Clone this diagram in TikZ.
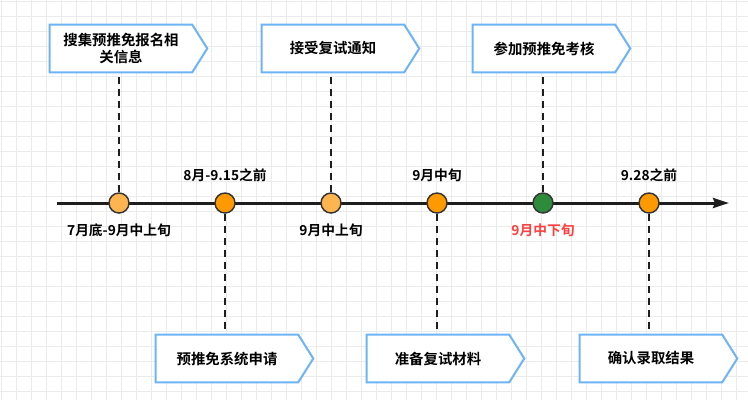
\documentclass[tikz,border=0pt]{standalone}
\usepackage{fontspec}
\setmainfont{Noto Sans CJK SC}[BoldFont={Noto Sans CJK SC Bold}]
\usetikzlibrary{arrows.meta}
\pgfdeclarelayer{gridlayer}
\pgfdeclarelayer{background}
\pgfsetlayers{gridlayer,background,main}
\definecolor{gridc}{HTML}{EBEBEB}
\definecolor{boxc}{HTML}{6CB4F5}
\definecolor{lorange}{HTML}{FFB54F}
\definecolor{dorange}{HTML}{FF9900}
\definecolor{dgreen}{HTML}{2E8B3C}
\definecolor{redt}{HTML}{FF4040}
\definecolor{linec}{HTML}{1E1E1E}
\tikzset{
  px/.style={x=0.75pt,y=-0.75pt},
  boxnode/.style={minimum width=106.5pt,minimum height=35.25pt,inner sep=0pt,font=\bfseries\fontsize{10.8}{12.4}\selectfont,align=center,text=black},
  boxline/.style={draw=boxc,line width=1.5pt,fill=white,line join=miter},
  dot/.style={circle,minimum size=15pt,inner sep=0pt,draw=linec!90,line width=1.1pt},
  tlabel/.style={font=\bfseries\fontsize{10.3}{12}\selectfont,text=black,inner sep=0pt},
  dashline/.style={draw=linec,line width=1.5pt,dash pattern=on 5.5pt off 3.5pt}
}
\newcommand{\arrowbox}[1]{%
  \draw[boxline] (#1.north west) -- (#1.north east) -- ([xshift=11.25pt]#1.east) -- (#1.south east) -- (#1.south west) -- cycle;}
\begin{document}
\begin{tikzpicture}[px]
\useasboundingbox (0,0) rectangle (748,400);
\begin{pgfonlayer}{gridlayer}
\fill[white] (0,0) rectangle (748,400);
\foreach \i in {0,...,49} {\draw[gridc,line width=0.75pt] ({1+15*\i},0) -- ({1+15*\i},400);}
\foreach \j in {0,...,26} {\draw[gridc,line width=0.75pt] (0,{1.7+15*\j}) -- (748,{1.7+15*\j});}
\end{pgfonlayer}

% timeline
\coordinate (tstart) at (57,203);
\coordinate (tend) at (729,203);
\draw[linec,line width=2.25pt,-{Stealth[length=12pt,width=7.5pt,inset=1.5pt]}] (tstart) -- (tend);

% boxes (rectangular part)
\node[boxnode] (b1) at (121,48.5) {搜集预推免报名相\\关信息};
\node[boxnode] (b2) at (333,48.5) {接受复试通知};
\node[boxnode] (b3) at (544,48.5) {参加预推免考核};
\node[boxnode] (b4) at (227,358.5) {预推免系统申请};
\node[boxnode] (b5) at (438,358.5) {准备复试材料};
\node[boxnode] (b6) at (651,358.5) {确认录取结果};

% circles
\node[dot,fill=lorange] (c1) at (119,203) {};
\node[dot,fill=dorange] (c2) at (225,203) {};
\node[dot,fill=lorange] (c3) at (331,203) {};
\node[dot,fill=dorange] (c4) at (437,203) {};
\node[dot,fill=dgreen] (c5) at (543,203) {};
\node[dot,fill=dorange] (c6) at (649,203) {};

\begin{pgfonlayer}{background}
\draw[dashline] (c1.north) -- (c1 |- b1.south);
\draw[dashline] (c3.north) -- (c3 |- b2.south);
\draw[dashline] (c5.north) -- (c5 |- b3.south);
\draw[dashline] (c2.south) -- (c2 |- b4.north);
\draw[dashline] (c4.south) -- (c4 |- b5.north);
\draw[dashline] (c6.south) -- (c6 |- b6.north);
\foreach \b in {b1,b2,b3,b4,b5,b6} {\arrowbox{\b}}
\end{pgfonlayer}

% labels
\node[tlabel] (l1) at (119,230) {7月底-9月中上旬};
\node[tlabel] (l2) at (225,175) {8月-9.15之前};
\node[tlabel] (l3) at (331,230) {9月中上旬};
\node[tlabel] (l4) at (437,175) {9月中旬};
\node[tlabel,text=redt] (l5) at (543,230) {9月中下旬};
\node[tlabel] (l6) at (649,175) {9.28之前};
\end{tikzpicture}
\end{document}
